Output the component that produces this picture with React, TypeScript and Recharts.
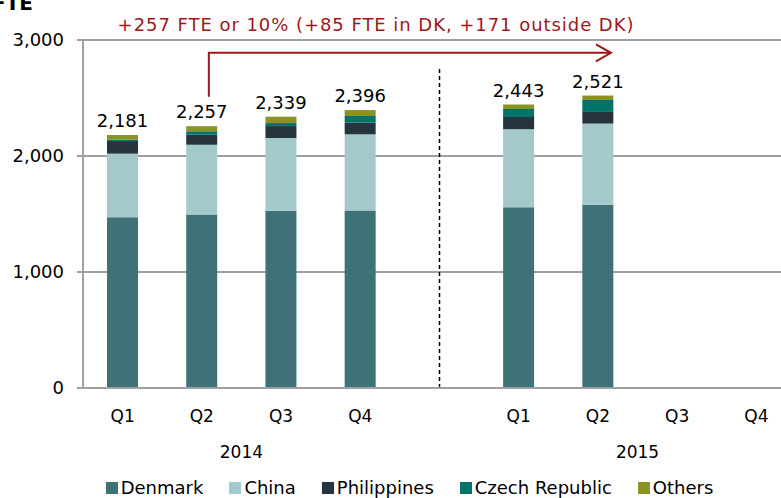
import React from 'react'
import {
  BarChart,
  Bar,
  XAxis,
  YAxis,
  CartesianGrid,
  Legend,
  LabelList,
  ReferenceLine,
} from 'recharts'

// categories: year-quarter keys, with an empty slot between the two years
const categories = ['2014-Q1', '2014-Q2', '2014-Q3', '2014-Q4', 'gap', '2015-Q1', '2015-Q2', '2015-Q3', '2015-Q4']

// FTE by location
const denmark = [1472, 1495, 1527, 1530, null, 1558, 1580, null, null]
const china = [548, 602, 628, 657, null, 672, 699, null, null]
const philippines = [109, 87, 103, 101, null, 106, 101, null, null]
const czech = [12, 29, 26, 57, null, 69, 103, null, null]
const others = [40, 44, 55, 51, null, 38, 38, null, null]

const yTicks = [0, 1000, 2000, 3000]

const series = [
  { key: 'Denmark', color: '#3f7277' },
  { key: 'China', color: '#a3c9cd' },
  { key: 'Philippines', color: '#25343f' },
  { key: 'Czech Republic', color: '#00736b' },
  { key: 'Others', color: '#8c9322' },
]

const data = categories.map((c, i) => {
  const parts = [denmark[i], china[i], philippines[i], czech[i], others[i]]
  const has = parts[0] != null
  return {
    cat: c,
    Denmark: denmark[i],
    China: china[i],
    Philippines: philippines[i],
    'Czech Republic': czech[i],
    Others: others[i],
    total: has ? parts.reduce((a, b) => (a as number) + (b as number), 0) : null,
  }
})

const CHART_W = 810
const CHART_H = 498
const Y_W = 83
const RIGHT = 14
const BAND = (CHART_W - Y_W - RIGHT) / categories.length
const RED = '#a0161b'
const GRID = '#a0a0a0'
const FONT = '"DejaVu Sans", Verdana, sans-serif'

const fmt = (v: number) => v.toLocaleString('en-US')

function QuarterTick(props: any) {
  const { x, y, payload } = props
  if (payload.value === 'gap') return null
  const [year, q] = String(payload.value).split('-')
  return (
    <g>
      <text x={x} y={y + 34} textAnchor="middle" fontSize={17} fill="#000" fontFamily={FONT}>
        {q}
      </text>
      {q === 'Q2' && (
        <text x={x + BAND / 2} y={y + 70} textAnchor="middle" fontSize={17} fill="#000" fontFamily={FONT}>
          {year}
        </text>
      )}
    </g>
  )
}

function GrowthArrow(props: any) {
  const { x1, y1, x2, y2 } = props
  const xs = x1 + 7
  const xe = x2 + 13
  return (
    <g>
      <path d={`M${xs},${y1} V${y2} H${xe}`} fill="none" stroke={RED} strokeWidth={2} />
      <path d={`M${xe - 15},${y2 - 8.5} L${xe},${y2} L${xe - 15},${y2 + 8.5}`} fill="none" stroke={RED} strokeWidth={2} />
    </g>
  )
}

function LegendContent() {
  return (
    <div style={{ display: 'flex', justifyContent: 'center', gap: 26, fontSize: 18, fontFamily: FONT, color: '#000', lineHeight: '21px' }}>
      {series.map((s) => (
        <span key={s.key} style={{ display: 'flex', alignItems: 'center' }}>
          <span style={{ width: 12, height: 12, background: s.color, marginRight: 3, display: 'inline-block' }} />
          {s.key}
        </span>
      ))}
    </div>
  )
}

export default function App() {
  return (
    <div style={{ position: 'absolute', left: 0, top: 0, width: 781, height: 498, overflow: 'hidden', background: '#fff', fontFamily: FONT }}>
      <BarChart width={CHART_W} height={CHART_H} data={data} margin={{ top: 40, right: RIGHT, left: 0, bottom: 0 }}>
        <CartesianGrid horizontal vertical={false} stroke={GRID} strokeWidth={2} />
        <XAxis
          dataKey="cat"
          interval={0}
          tickLine={false}
          tickSize={0}
          tickMargin={0}
          height={89}
          axisLine={{ stroke: GRID, strokeWidth: 2 }}
          tick={<QuarterTick />}
        />
        <YAxis
          width={Y_W}
          domain={[0, 3000]}
          ticks={yTicks}
          tickFormatter={fmt}
          tick={{ fontSize: 18, fill: '#000', fontFamily: FONT }}
          axisLine={{ stroke: GRID, strokeWidth: 2 }}
          tickLine={{ stroke: GRID, strokeWidth: 2 }}
          tickSize={6}
          tickMargin={13}
        />
        {series.map((s, i) => (
          <Bar key={s.key} dataKey={s.key} stackId="fte" fill={s.color} barSize={31} isAnimationActive={false}>
            {i === series.length - 1 && (
              <LabelList dataKey="total" position="top" offset={8} formatter={(v: any) => (v == null ? '' : fmt(v))} style={{ fontSize: 18, fill: '#000', fontFamily: FONT }} />
            )}
          </Bar>
        ))}
        <ReferenceLine
          segment={[{ x: 'gap', y: 0 }, { x: 'gap', y: 2760 }]}
          stroke="#000"
          strokeWidth={1.5}
          strokeDasharray="4 3"
        />
        <ReferenceLine
          segment={[{ x: '2014-Q2', y: 2510 }, { x: '2015-Q2', y: 2890 }]}
          shape={<GrowthArrow />}
          ifOverflow="visible"
        />
        <Legend verticalAlign="bottom" content={<LegendContent />} wrapperStyle={{ left: 0, width: 819 }} />
      </BarChart>
      <svg width={781} height={498} style={{ position: 'absolute', left: 0, top: 0, pointerEvents: 'none' }}>
        <text x={-8} y={10} fontSize={20} fontWeight="bold" fill="#000" fontFamily={FONT}>FTE</text>
        <text x={376} y={31} textAnchor="middle" fontSize={18} letterSpacing={0.95} fill={RED} fontFamily={FONT}>
          +257 FTE or 10% (+85 FTE in DK, +171 outside DK)
        </text>
      </svg>
    </div>
  )
}
